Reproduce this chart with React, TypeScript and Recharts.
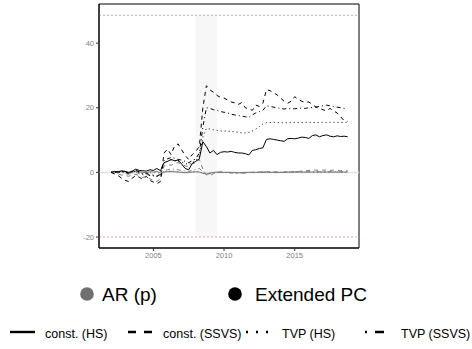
import { LineChart, Line, XAxis, YAxis, ReferenceArea, ReferenceLine } from 'recharts';

// quarterly dates (decimal years)
const dates: number[] = [
  2002.0, 2002.25, 2002.5, 2002.75, 2003.0, 2003.25, 2003.5, 2003.75,
  2004.0, 2004.25, 2004.5, 2004.75, 2005.0, 2005.25, 2005.5, 2005.75,
  2006.0, 2006.25, 2006.5, 2006.75, 2007.0, 2007.25, 2007.5, 2007.75,
  2008.0, 2008.25, 2008.5, 2008.75, 2009.0, 2009.25, 2009.5, 2009.75,
  2010.0, 2010.25, 2010.5, 2010.75, 2011.0, 2011.25, 2011.5, 2011.75,
  2012.0, 2012.25, 2012.5, 2012.75, 2013.0, 2013.25, 2013.5, 2013.75,
  2014.0, 2014.25, 2014.5, 2014.75, 2015.0, 2015.25, 2015.5, 2015.75,
  2016.0, 2016.25, 2016.5, 2016.75, 2017.0, 2017.25, 2017.5, 2017.75,
  2018.0, 2018.25, 2018.5, 2018.75,
];

// Extended PC
const pcConstHS: number[] = [
  0.0, 0.3, 0.2, 0.5, 0.3, 0.0, 0.4, 1.0,
  0.6, 0.5, 0.4, 0.8, 0.6, 1.2, 0.5, 3.0,
  3.4, 4.0, 3.6, 3.8, 2.6, 1.2, 0.8, 2.8,
  3.4, 4.2, 9.5, 8.0, 6.0, 6.8, 5.5, 6.2,
  6.4, 6.3, 6.5, 6.2, 6.0, 6.0, 5.8, 5.4,
  6.8, 7.0, 7.4, 7.6, 10.2, 10.4, 10.2, 10.0,
  9.8, 9.6, 10.4, 10.5, 10.4, 10.6, 10.9, 10.8,
  10.5, 11.4, 11.6, 11.0, 11.4, 11.6, 11.2, 11.0,
  11.3, 11.1, 11.2, 11.0,
];
const pcConstSSVS: number[] = [
  0.0, -0.5, -1.0, -1.8, -2.5, -2.8, -1.8, -1.0,
  -1.5, -2.2, -1.2, -2.5, -3.0, -3.5, -2.8, 6.0,
  7.2, 5.5, 8.2, 8.8, 7.0, 5.2, 4.0, 5.5,
  6.5, 8.0, 20.0, 26.8, 25.5, 24.8, 23.8, 23.2,
  23.0, 22.4, 21.8, 21.5, 21.0, 21.6, 20.0, 19.6,
  19.2, 20.8, 20.4, 21.4, 25.6, 25.3, 24.6, 24.0,
  23.0, 22.0, 21.4, 22.0, 23.4, 22.6, 22.0, 21.6,
  21.8, 21.0, 20.2, 19.8, 19.4, 19.0, 19.8, 19.0,
  18.4, 17.2, 16.0, 15.8,
];
const pcTvpHS: number[] = [
  0.0, 0.1, 0.0, 0.2, 0.0, -0.4, 0.0, 0.4,
  0.0, -0.6, -0.4, -1.0, -1.0, -1.4, -0.8, 3.0,
  3.4, 3.8, 3.6, 3.4, 3.2, 2.8, 2.4, 3.0,
  3.6, 5.0, 11.0, 13.6, 13.4, 13.2, 13.0, 12.8,
  12.8, 12.8, 12.6, 12.6, 12.4, 12.2, 12.2, 12.4,
  12.8, 13.4, 14.2, 15.0, 15.4, 15.4, 15.5, 15.4,
  15.4, 15.3, 15.4, 15.4, 15.5, 15.4, 15.4, 15.5,
  15.5, 15.4, 15.5, 15.4, 15.5, 15.4, 15.5, 15.5,
  15.5, 15.4, 15.5, 15.5,
];
const pcTvpSSVS: number[] = [
  0.0, 0.2, 0.1, 0.3, 0.2, -0.3, 0.2, 0.6,
  0.2, -0.5, -0.2, -0.8, -0.8, -1.2, -0.5, 3.6,
  4.2, 4.6, 4.4, 4.0, 3.8, 3.4, 3.0, 3.6,
  4.2, 6.0, 14.0, 20.0, 19.8, 19.4, 19.2, 18.8,
  18.6, 18.4, 18.0, 17.8, 17.6, 17.4, 17.2, 17.0,
  17.8, 18.4, 18.8, 19.2, 20.6, 20.4, 20.2, 20.0,
  19.8, 19.6, 19.8, 19.6, 19.7, 19.8, 19.9, 19.8,
  20.0, 20.1, 20.2, 20.4, 20.6, 20.8, 20.6, 20.4,
  20.2, 20.0, 19.8, 19.7,
];

// AR (p)
const arConstHS: number[] = [
  0.0, 0.2, 0.1, 0.3, 0.2, -0.2, 0.1, 0.4,
  0.2, 0.0, -0.1, 0.2, 0.1, 0.3, -0.2, 0.1,
  0.2, 0.3, 0.2, 0.1, 0.0, -0.1, 0.0, 0.1,
  0.2, 0.1, -0.3, -0.5, -0.2, 0.0, 0.1, 0.0,
  0.0, 0.0, 0.0, 0.0, -0.1, -0.1, 0.0, 0.0,
  0.0, 0.0, 0.1, 0.1, 0.1, 0.0, 0.0, 0.0,
  0.0, 0.0, 0.1, 0.1, 0.1, 0.1, 0.1, 0.1,
  0.1, 0.1, 0.1, 0.1, 0.1, 0.1, 0.1, 0.1,
  0.1, 0.1, 0.1, 0.1,
];
const arConstSSVS: number[] = [
  0.0, -0.3, -0.6, -0.8, -1.0, -1.2, -0.8, -0.6,
  -1.0, -1.6, -1.2, -2.0, -2.4, -2.8, -2.0, 2.0,
  2.4, 2.2, 2.8, 3.0, 2.6, 2.0, 1.8, 2.6,
  3.0, 4.0, 1.0, -0.8, -1.0, -0.4, 0.0, 0.2,
  0.1, 0.0, 0.0, -0.1, -0.2, -0.3, -0.2, -0.1,
  0.0, 0.0, 0.1, 0.1, 0.2, 0.2, 0.1, 0.1,
  0.0, 0.1, 0.1, 0.2, 0.2, 0.3, 0.4, 0.5,
  0.6, 0.7, 0.7, 0.6, 0.7, 0.7, 0.6, 0.7,
  0.6, 0.5, 0.6, 0.5,
];
const arTvpHS: number[] = [
  0.0, 0.1, 0.0, 0.2, 0.1, -0.3, 0.0, 0.3,
  0.1, -0.2, -0.3, -0.1, -0.2, 0.0, -0.4, 0.2,
  0.3, 0.4, 0.3, 0.2, 0.1, 0.0, 0.1, 0.2,
  0.3, 0.2, -0.2, -0.4, -0.3, -0.1, 0.0, 0.0,
  0.0, 0.0, -0.1, -0.1, -0.1, -0.1, 0.0, 0.0,
  0.0, 0.0, 0.0, 0.0, 0.0, 0.0, 0.0, 0.0,
  0.0, 0.0, 0.0, 0.0, 0.0, 0.0, 0.0, 0.0,
  0.0, 0.0, 0.0, 0.0, 0.0, 0.0, 0.0, 0.0,
  0.0, 0.0, 0.0, 0.0,
];
const arTvpSSVS: number[] = [
  0.0, 0.1, -0.2, 0.0, -0.3, -0.6, -0.2, 0.1,
  -0.4, -0.8, -0.6, -1.0, -1.2, -1.0, -0.8, 0.6,
  0.8, 0.9, 1.0, 0.8, 0.6, 0.4, 0.3, 0.6,
  0.9, 1.2, 0.2, -0.6, -0.4, -0.2, 0.0, 0.0,
  -0.1, -0.1, -0.2, -0.2, -0.2, -0.1, -0.1, 0.0,
  0.0, 0.0, 0.0, 0.0, 0.1, 0.1, 0.1, 0.1,
  0.1, 0.1, 0.1, 0.1, 0.2, 0.2, 0.2, 0.2,
  0.2, 0.2, 0.2, 0.2, 0.2, 0.2, 0.2, 0.2,
  0.2, 0.2, 0.2, 0.2,
];

const xTicks = [2005, 2010, 2015];
const yTicks = [-20, 0, 20, 40];
const bounds = [-20, 48.6];
const recession = [2008.0, 2009.5];

const rows = dates.map((t, i) => ({
  t,
  arConstHS: arConstHS[i],
  arConstSSVS: arConstSSVS[i],
  arTvpHS: arTvpHS[i],
  arTvpSSVS: arTvpSSVS[i],
  pcConstHS: pcConstHS[i],
  pcConstSSVS: pcConstSSVS[i],
  pcTvpHS: pcTvpHS[i],
  pcTvpSSVS: pcTvpSSVS[i],
}));

const X_DOMAIN: [number, number] = [2001.15, 2019.55];
const Y_DOMAIN: [number, number] = [-23.4, 52.1];

const GREY = '#7a7a7a';
const DASH: Record<string, string | undefined> = {
  HS: undefined,
  SSVS: '4 4',
  TVPHS: '1 3',
  TVPSSVS: '1 3 4 3',
};

const series = [
  { key: 'arConstHS', color: GREY, dash: DASH.HS },
  { key: 'arConstSSVS', color: GREY, dash: DASH.SSVS },
  { key: 'arTvpHS', color: GREY, dash: DASH.TVPHS },
  { key: 'arTvpSSVS', color: GREY, dash: DASH.TVPSSVS },
  { key: 'pcTvpHS', color: '#000', dash: DASH.TVPHS },
  { key: 'pcTvpSSVS', color: '#000', dash: DASH.TVPSSVS },
  { key: 'pcConstSSVS', color: '#000', dash: DASH.SSVS },
  { key: 'pcConstHS', color: '#000', dash: DASH.HS },
];

const tickStyle = { fill: '#7f7f7f', fontSize: 7.5, fontFamily: '"Liberation Sans", Arial, sans-serif' };

const lineKeys = [
  { label: 'const. (HS)', x1: 10, x2: 35, dash: undefined, text: 45 },
  { label: 'const. (SSVS)', x1: 128, x2: 153, dash: '8 8', text: 163 },
  { label: 'TVP (HS)', x1: 246, x2: 268, dash: '2 8', text: 282 },
  { label: 'TVP (SSVS)', x1: 365, x2: 384, dash: '2 8 9 0', text: 401 },
];

export default function App() {
  return (
    <div
      style={{
        position: 'absolute',
        left: 0,
        top: 0,
        width: 472,
        height: 349,
        background: '#fff',
        fontFamily: '"Liberation Sans", Arial, sans-serif',
        color: '#000',
      }}
    >
      <LineChart width={472} height={349} data={rows} margin={{ top: 4, right: 113, bottom: 81, left: 0 }}>
        <ReferenceArea x1={recession[0]} x2={recession[1]} y1={bounds[0]} y2={bounds[1]} fill="#efefef" stroke="none" />
        <ReferenceLine y={0} stroke="#e3e3e3" strokeWidth={1.5} />
        {bounds.map((b) => (
          <ReferenceLine key={b} y={b} stroke="#f08c8c" strokeWidth={0.8} strokeDasharray="2 2" />
        ))}
        <XAxis
          dataKey="t"
          type="number"
          domain={X_DOMAIN}
          ticks={xTicks}
          allowDataOverflow
          tick={tickStyle}
          tickSize={3}
          tickMargin={2}
          tickLine={{ stroke: '#333' }}
          axisLine={{ stroke: '#000' }}
          height={20}
        />
        <YAxis
          type="number"
          domain={Y_DOMAIN}
          ticks={yTicks}
          allowDataOverflow
          tick={tickStyle}
          tickSize={3}
          tickMargin={2}
          tickLine={{ stroke: '#333' }}
          axisLine={{ stroke: '#000' }}
          width={99}
        />
        {series.map((s) => (
          <Line
            key={s.key}
            dataKey={s.key}
            type="linear"
            stroke={s.color}
            strokeWidth={1}
            strokeDasharray={s.dash}
            dot={false}
            activeDot={false}
            isAnimationActive={false}
          />
        ))}
        {/* panel border */}
        <ReferenceArea
          x1={X_DOMAIN[0]}
          x2={X_DOMAIN[1]}
          y1={Y_DOMAIN[0]}
          y2={Y_DOMAIN[1]}
          fill="none"
          fillOpacity={0}
          stroke="#000"
          strokeWidth={1}
          ifOverflow="visible"
        />
      </LineChart>

      {/* colour legend */}
      <svg style={{ position: 'absolute', left: 0, top: 280 }} width={472} height={30}>
        <circle cx={87} cy={14} r={6.8} fill="#707070" />
        <circle cx={235} cy={14} r={6.8} fill="#000" />
      </svg>
      <div style={{ position: 'absolute', left: 102, top: 283, fontSize: 19, lineHeight: '24px', whiteSpace: 'nowrap' }}>AR (p)</div>
      <div style={{ position: 'absolute', left: 255, top: 283, fontSize: 19, lineHeight: '24px', whiteSpace: 'nowrap' }}>Extended PC</div>

      {/* linetype legend */}
      <svg style={{ position: 'absolute', left: 0, top: 322 }} width={472} height={20}>
        {lineKeys.map((k) => (
          <line key={k.label} x1={k.x1} x2={k.x2} y1={10} y2={10} stroke="#000" strokeWidth={2.4} strokeDasharray={k.dash} />
        ))}
      </svg>
      {lineKeys.map((k) => (
        <div
          key={k.label}
          style={{ position: 'absolute', left: k.text, top: 326, fontSize: 12.5, lineHeight: '16px', whiteSpace: 'nowrap' }}
        >
          {k.label}
        </div>
      ))}
    </div>
  );
}
